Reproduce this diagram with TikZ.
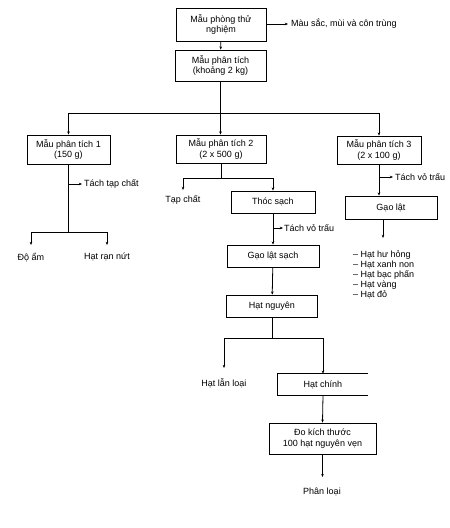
\documentclass[tikz,border=0pt]{standalone}
\usepackage{fontspec}
\setmainfont{Liberation Sans}
\usetikzlibrary{arrows.meta}
\begin{document}
\begin{tikzpicture}[x=1pt,y=-1pt,
  every node/.style={font=\fontsize{9}{10.5}\selectfont, inner sep=0pt},
  box/.style={draw, line width=0.8pt, align=center},
  lbl/.style={align=left},
  conn/.style={line width=0.8pt},
  arr/.style={conn, -{Stealth[length=3.2pt,width=2.6pt]}}]
\useasboundingbox (0,0) rectangle (450,528);
% boxes
\node[box, minimum width=90pt, minimum height=33pt] (b1) at (221,24.5) {Mẫu phòng thử\\nghiệm};
\node[box, minimum width=91pt, minimum height=31pt] (b2) at (220.5,65.5) {Mẫu phân tích\\(khoảng 2 kg)};
\node[box, minimum width=83pt, minimum height=29pt] (p1) at (68.5,149.5) {Mẫu phân tích 1\\(150 g)};
\node[box, minimum width=90pt, minimum height=28pt] (p2) at (221,149) {Mẫu phân tích 2\\(2 x 500 g)};
\node[box, minimum width=84pt, minimum height=28pt] (p3) at (379,150) {Mẫu phân tích 3\\(2 x 100 g)};
\node[box, minimum width=84pt, minimum height=22pt] (thoc) at (273,202) {Thóc sạch};
\node[box, minimum width=92pt, minimum height=22pt] (gls) at (273,256) {Gạo lật sạch};
\node[box, minimum width=91pt, minimum height=22pt] (hn) at (272,306) {Hạt nguyên};
\node[box, minimum width=92pt, minimum height=23pt] (gl) at (391,207.5) {Gạo lật};
\node[minimum width=90pt, minimum height=21pt] (hc) at (323,384.5) {Hạt chính};
\draw[conn] (hc.north east) -- (hc.north west) -- (hc.south west) -- (hc.south east);
\node[box, minimum width=107pt, minimum height=31pt] (dk) at (322.5,438.5) {Đo kích thước\\100 hạt nguyên vẹn};
% labels
\coordinate (c1) at (288,24);
\node[lbl, anchor=west] (t1) at (291,24) {Màu sắc, mùi và côn trùng};
\coordinate (c2) at (82,184);
\node[lbl, anchor=west] (t2) at (84,184) {Tách tạp chất};
\node (doam) at (31,258) {Độ ẩm};
\node (hrn) at (107,257) {Hạt rạn nứt};
\node (tapchat) at (183,200) {Tạp chất};
\coordinate (c3) at (283,228);
\node[lbl, anchor=west] (t3) at (284,228) {Tách vỏ trấu};
\coordinate (c4) at (393,177);
\node[lbl, anchor=west] (t4) at (395,177) {Tách vỏ trấu};
\node[lbl, anchor=north west, font=\fontsize{9}{10}\selectfont] (list) at (353,250.5) {– Hạt hư hỏng\\– Hạt xanh non\\– Hạt bạc phấn\\– Hạt vàng\\– Hạt đỏ};
\node (hll) at (224,383) {Hạt lẫn loại};
\node (pl) at (322,492) {Phân loại};
% connectors
\draw[arr] (b1.east |- c1) -- (c1);
\draw[arr] (b1) -- (b2);
\draw[arr] (b2.south) -- (b2.south |- p2.north);
\draw[conn] (p1.north |- 0,113) -- (p3.north |- 0,113);
\draw[arr] (p1.north |- 0,113) -- (p1.north);
\draw[arr] (p3.north |- 0,113) -- (p3.north);
% p1 branch
\draw[conn] (p1.south) -- (p1.south |- 0,232);
\draw[arr] (p1.south |- c2) -- (c2);
\draw[conn] (doam.north |- 0,232) -- (hrn.north |- 0,232);
\draw[arr] (doam.north |- 0,232) -- (doam.north |- 0,245);
\draw[arr] (hrn.north |- 0,232) -- (hrn.north |- 0,245);
% p2 branch
\draw[conn] (p2.south) -- (p2.south |- 0,178);
\draw[conn] (tapchat.north |- 0,178) -- (thoc.north |- 0,178);
\draw[arr] (tapchat.north |- 0,178) -- (tapchat.north |- 0,190);
\draw[arr] (thoc.north |- 0,178) -- (thoc.north);
\draw[arr] (thoc.south) -- (gls.north);
\draw[arr] (thoc.south |- c3) -- (c3);
\draw[arr] (gls) -- (hn);
\draw[conn] (hn.south) -- (hn.south |- 0,338);
\draw[conn] (hll.north |- 0,338) -- (hc.north |- 0,338);
\draw[arr] (hll.north |- 0,338) -- (hll.north |- 0,368);
\draw[arr] (hc.north |- 0,338) -- (hc.north);
\draw[arr] (hc.south) -- (dk.north);
\draw[arr] (dk.south) -- (dk.south |- 0,477);
% p3 branch
\draw[arr] (p3.south) -- (p3.south |- gl.north);
\draw[arr] (p3.south |- c4) -- (c4);
\draw[arr] (383,219) -- (383,238);
\end{tikzpicture}
\end{document}
